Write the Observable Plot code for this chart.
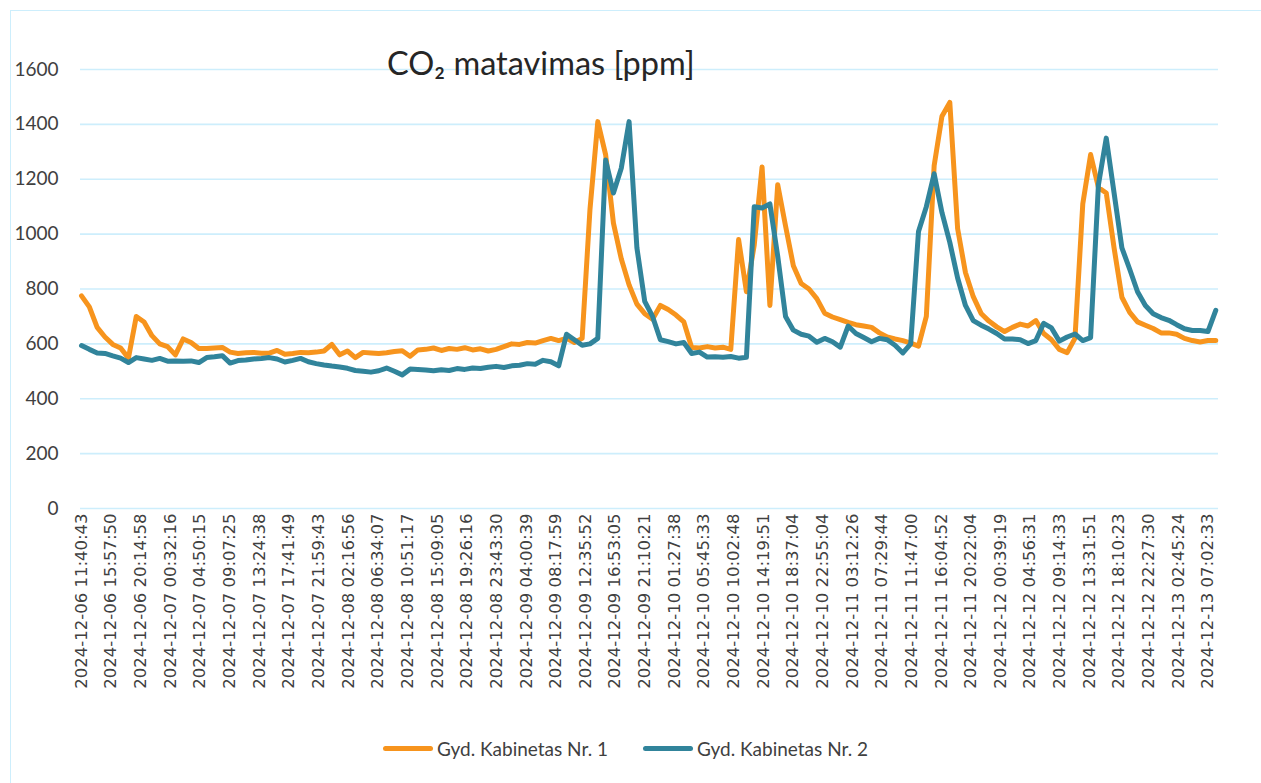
<!DOCTYPE html>
<html><head><meta charset="utf-8">
<script src="https://cdn.jsdelivr.net/npm/d3@7"></script>
<script src="https://cdn.jsdelivr.net/npm/@observablehq/plot@0.6"></script>
<style>
body{margin:0;background:#fff;}
#wrap{position:relative;width:1261px;height:783px;overflow:hidden;}
#frame{position:absolute;left:10px;top:10px;width:1300px;height:820px;border:1.5px solid #cdeefc;box-sizing:border-box;}
#chart{position:absolute;left:0;top:0;}
#title{position:absolute;left:387px;top:43px;font-family:Lato,"Noto Sans",sans-serif;font-size:32.5px;color:#262626;white-space:nowrap;}
#legend{position:absolute;left:383px;top:737px;font-family:Lato,"Noto Sans",sans-serif;font-size:19px;color:#404040;display:flex;align-items:center;white-space:nowrap;}
.item{display:flex;align-items:center;margin-right:35px;}
.sw{width:50px;height:5px;border-radius:3px;margin-right:4px;}
</style></head>
<body>
<div id="wrap">
<div id="frame"></div>
<div id="chart"></div>
<div id="title">CO₂ matavimas [ppm]</div>
<div id="legend"></div>
</div>
<script>
const seriesNames = ["Gyd. Kabinetas Nr. 1", "Gyd. Kabinetas Nr. 2"];

const tickLabels = [
"2024-12-06 11:40:43","2024-12-06 15:57:50","2024-12-06 20:14:58","2024-12-07 00:32:16",
"2024-12-07 04:50:15","2024-12-07 09:07:25","2024-12-07 13:24:38","2024-12-07 17:41:49",
"2024-12-07 21:59:43","2024-12-08 02:16:56","2024-12-08 06:34:07","2024-12-08 10:51:17",
"2024-12-08 15:09:05","2024-12-08 19:26:16","2024-12-08 23:43:30","2024-12-09 04:00:39",
"2024-12-09 08:17:59","2024-12-09 12:35:52","2024-12-09 16:53:05","2024-12-09 21:10:21",
"2024-12-10 01:27:38","2024-12-10 05:45:33","2024-12-10 10:02:48","2024-12-10 14:19:51",
"2024-12-10 18:37:04","2024-12-10 22:55:04","2024-12-11 03:12:26","2024-12-11 07:29:44",
"2024-12-11 11:47:00","2024-12-11 16:04:52","2024-12-11 20:22:04","2024-12-12 00:39:19",
"2024-12-12 04:56:31","2024-12-12 09:14:33","2024-12-12 13:31:51","2024-12-12 18:10:23",
"2024-12-12 22:27:30","2024-12-13 02:45:24","2024-12-13 07:02:33"
];
// measurement rows between consecutive labelled rows (in sample units)
const samplesPerLabel = 3.79;

// readings, sampled at equal row steps
const series1 = [
775,735,660,625,598,585,548,700,680,630,
600,590,560,618,605,583,583,585,587,570,
565,568,569,566,566,576,562,565,569,568,
570,574,598,560,574,550,569,567,565,568,
572,575,555,578,580,585,576,583,580,586,
578,582,574,580,590,600,598,605,603,612,
620,612,620,605,620,1090,1410,1290,1040,910,
815,745,710,690,740,725,705,680,587,585,
590,585,588,580,980,790,960,1245,740,1180,
1030,885,820,800,765,712,698,688,678,670,
665,660,640,625,618,612,603,592,700,1250,
1430,1480,1020,860,772,711,683,662,645,660,
672,665,685,638,615,580,568,620,1110,1290,
1170,1150,950,770,715,680,668,656,640,640,
635,620,612,607,612,612
];
const series2 = [
594,580,567,565,556,548,532,550,545,540,
547,537,538,537,538,532,550,553,557,530,
539,541,545,547,550,545,534,540,547,535,
528,523,519,516,511,503,500,497,502,512,
500,487,508,507,505,502,506,503,510,507,
512,510,515,518,514,520,522,528,526,540,
535,520,635,615,595,600,620,1270,1150,1240,
1410,950,755,700,615,608,600,605,565,570,
552,553,551,554,548,551,1100,1095,1110,920,
700,650,635,628,606,620,608,588,665,638,
623,608,620,615,595,567,600,1010,1100,1220,
1078,970,840,740,685,668,654,638,618,618,
615,601,612,675,658,610,625,636,612,623,
1180,1350,1150,950,872,790,740,710,696,686,
670,655,649,649,645,722
];
const seriesColors = ["#F7941D", "#31849B"];

const rows = [];
series1.forEach((v, k) => rows.push({k, v, s: seriesNames[0]}));
series2.forEach((v, k) => rows.push({k, v, s: seriesNames[1]}));

const tickPos = tickLabels.map((_, i) => i * samplesPerLabel);

const chart = Plot.plot({
  width: 1261,
  height: 728,
  marginLeft: 80,
  marginRight: 43,
  marginTop: 69,
  marginBottom: 220,
  style: {background: "transparent", fontFamily: "Lato, 'Noto Sans', sans-serif"},
  x: {type: "linear", domain: [-0.13, 145.35]},
  y: {domain: [0, 1600]},
  color: {domain: seriesNames, range: seriesColors},
  marks: [
    Plot.gridY({ticks: d3.range(0, 1601, 200), stroke: "#cdeefc", strokeOpacity: 1, strokeWidth: 1.6}),
    Plot.axisY({ticks: d3.range(0, 1601, 200), tickFormat: d => String(d), tickSize: 0, tickPadding: 22, fontSize: 19, fill: "#404040", label: null}),
    Plot.axisX({ticks: tickPos, tickFormat: (d, i) => tickLabels[i], tickRotate: -90, tickSize: 0, tickPadding: 5,
      fontSize: 16.5, fontFamily: "DejaVu Sans", fill: "#404040", label: null}),
    Plot.line(rows, {x: "k", y: "v", z: "s", stroke: "s", strokeWidth: 5, strokeLinejoin: "round", strokeLinecap: "round"})
  ]
});
document.getElementById("chart").appendChild(chart);

const legend = document.getElementById("legend");
seriesNames.forEach((n, i) => {
  const it = document.createElement("div");
  it.className = "item";
  it.innerHTML = `<div class="sw" style="background:${seriesColors[i]}"></div><span>${n}</span>`;
  legend.appendChild(it);
});
</script>
</body></html>
